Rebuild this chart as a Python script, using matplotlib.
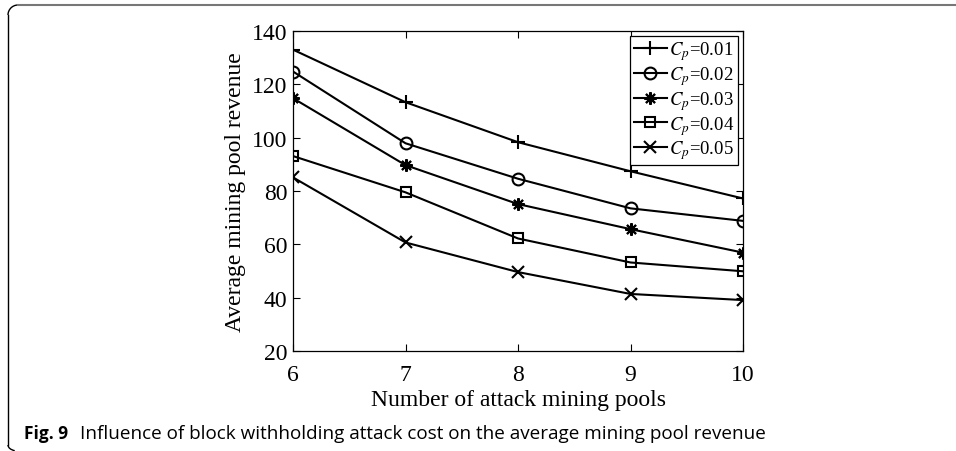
import matplotlib
matplotlib.use("Agg")
import matplotlib.pyplot as plt
from matplotlib.lines import Line2D
from matplotlib.patches import Arc

# data
pools = [6, 7, 8, 9, 10]
cp_labels = ["0.01", "0.02", "0.03", "0.04", "0.05"]
rev_001 = [133.0, 113.3, 98.3, 87.4, 77.2]
rev_002 = [124.8, 97.9, 84.6, 73.5, 68.8]
rev_003 = [114.8, 89.7, 75.1, 65.7, 56.9]
rev_004 = [93.1, 79.5, 62.2, 53.2, 49.9]
rev_005 = [85.1, 60.7, 49.6, 41.4, 39.1]
series = [rev_001, rev_002, rev_003, rev_004, rev_005]
markers = ["+", "o", (8, 2, 0), "s", "x"]
msizes = [10, 8.5, 9, 7, 8]

plt.rcParams["font.family"] = "Liberation Serif"
plt.rcParams["mathtext.fontset"] = "stix"

fig = plt.figure(figsize=(9.56, 4.52), dpi=100)
ax = fig.add_axes([0.3065, 0.2212, 0.4707, 0.7080])

for vals, m, ms, lab in zip(series, markers, msizes, cp_labels):
    ax.plot(pools, vals, color="black", lw=1.5, marker=m, markersize=ms,
            markerfacecolor="none", markeredgewidth=1.5,
            label="$C_{p}$=" + lab)

ax.set_xlim(6, 10)
ax.set_ylim(20, 140)
ax.set_xticks(pools)
ax.set_yticks(range(20, 141, 20))
ax.tick_params(direction="in", top=True, right=True, labelsize=17, length=5)
ax.tick_params(axis="x", pad=9)
ax.tick_params(axis="y", pad=4)
for s in ax.spines.values():
    s.set_linewidth(0.9)
ax.set_xlabel("Number of attack mining pools", fontsize=17, labelpad=3)
ax.set_ylabel("Average mining pool revenue", fontsize=17, labelpad=4)

leg = ax.legend(loc="upper right", fontsize=13.5, frameon=True, fancybox=False,
                edgecolor="black", framealpha=1, handlelength=1.75,
                handletextpad=0.15, labelspacing=0.1, borderpad=0.2,
                borderaxespad=0.25)
leg.get_frame().set_linewidth(0.9)

# page frame around figure + caption
fig.add_artist(Line2D([18 / 956, 1.0], [1 - 6 / 452, 1 - 6 / 452],
                      transform=fig.transFigure, color="#777777", lw=1.5))
fig.add_artist(Line2D([8 / 956, 8 / 956], [1 - 16 / 452, 6 / 452],
                      transform=fig.transFigure, color="black", lw=1.0))
fig.add_artist(Arc((18, 452 - 16), 20, 20, theta1=90, theta2=180,
                   transform=None, color="black", lw=1.0))
fig.add_artist(Arc((18, 6), 20, 12, theta1=180, theta2=240,
                   transform=None, color="black", lw=1.0))

fig.text(24 / 956, 1 - 434 / 452, "Fig. 9", fontsize=12.5, fontweight="bold",
         family="Open Sans", va="center", ha="left")
fig.text(80 / 956, 1 - 434 / 452,
         "Influence of block withholding attack cost on the average mining pool revenue",
         fontsize=13.6, family="Open Sans", va="center", ha="left")

fig.savefig("out.png", dpi=100)
